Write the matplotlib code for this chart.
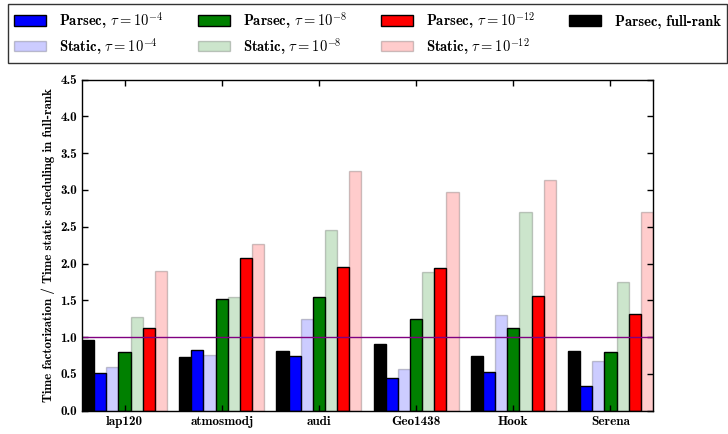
import matplotlib
matplotlib.use("Agg")
import matplotlib.pyplot as plt
import numpy as np

matrices = ["lap120", "atmosmodj", "audi", "Geo1438", "Hook", "Serena"]
parsec_full = [0.96, 0.73, 0.81, 0.90, 0.74, 0.81]
parsec_1e4 = [0.51, 0.83, 0.75, 0.45, 0.53, 0.34]
static_1e4 = [0.60, 0.76, 1.24, 0.57, 1.30, 0.67]
parsec_1e8 = [0.80, 1.52, 1.54, 1.24, 1.13, 0.80]
static_1e8 = [1.27, 1.55, 2.46, 1.89, 2.70, 1.75]
parsec_1e12 = [1.13, 2.08, 1.95, 1.94, 1.56, 1.31]
static_1e12 = [1.90, 2.26, 3.26, 2.97, 3.14, 2.70]

plt.rcParams['font.family'] = ['cmb10', 'DejaVu Serif']
plt.rcParams['mathtext.fontset'] = 'cm'
plt.rcParams['axes.unicode_minus'] = False

fig = plt.figure(figsize=(7.28, 4.34), dpi=100)
ax = fig.add_axes([82/728, 1-410.7/434, (653-82)/728, (410.7-79.5)/434])

x = np.arange(len(matrices))
w = 0.125
series = [
    (parsec_full, 'black', 1.0, 'Parsec, full-rank'),
    (parsec_1e4, 'blue', 1.0, r'Parsec, $\tau=10^{-4}$'),
    (static_1e4, 'blue', 0.2, r'Static, $\tau=10^{-4}$'),
    (parsec_1e8, 'green', 1.0, r'Parsec, $\tau=10^{-8}$'),
    (static_1e8, 'green', 0.2, r'Static, $\tau=10^{-8}$'),
    (parsec_1e12, 'red', 1.0, r'Parsec, $\tau=10^{-12}$'),
    (static_1e12, 'red', 0.2, r'Static, $\tau=10^{-12}$'),
]
handles = {}
for k, (vals, col, a, lab) in enumerate(series):
    b = ax.bar(x - 0.4375 + k * w, vals, width=w, align='edge', color=col,
               edgecolor='black', linewidth=1.0, alpha=a, label=lab)
    handles[lab] = b

ax.axhline(1.0, color='purple', linewidth=1.0)
ax.set_xlim(-0.4375, 5.4375)
ax.set_ylim(0, 4.5)
yt = np.arange(0, 4.51, 0.5)
ax.set_yticks(yt)
ax.set_yticklabels([f"{v:.1f}" for v in yt], fontsize=9.5)
ax.set_xticks(x)
ax.set_xticklabels(matrices, fontsize=9.5)
ax.tick_params(direction='in', top=True, right=True, length=4, width=1)
ax.set_ylabel('Time factorization / Time static scheduling in full-rank', fontsize=9.3)
for s in ax.spines.values():
    s.set_linewidth(1.0)

order = [r'Parsec, $\tau=10^{-4}$', r'Static, $\tau=10^{-4}$',
         r'Parsec, $\tau=10^{-8}$', r'Static, $\tau=10^{-8}$',
         r'Parsec, $\tau=10^{-12}$', r'Static, $\tau=10^{-12}$',
         'Parsec, full-rank']
leg = fig.legend([handles[o] for o in order], order, ncol=4, loc='upper left',
                 bbox_to_anchor=(8/728, 1-4/434), fontsize=10.5, frameon=True,
                 fancybox=False, edgecolor='black', handlelength=2.2,
                 handleheight=0.7, handletextpad=0.9, columnspacing=2.35,
                 borderpad=0.42, labelspacing=0.32, borderaxespad=0.0)
leg.get_frame().set_linewidth(1.0)

fig.savefig('out.png', dpi=100)
